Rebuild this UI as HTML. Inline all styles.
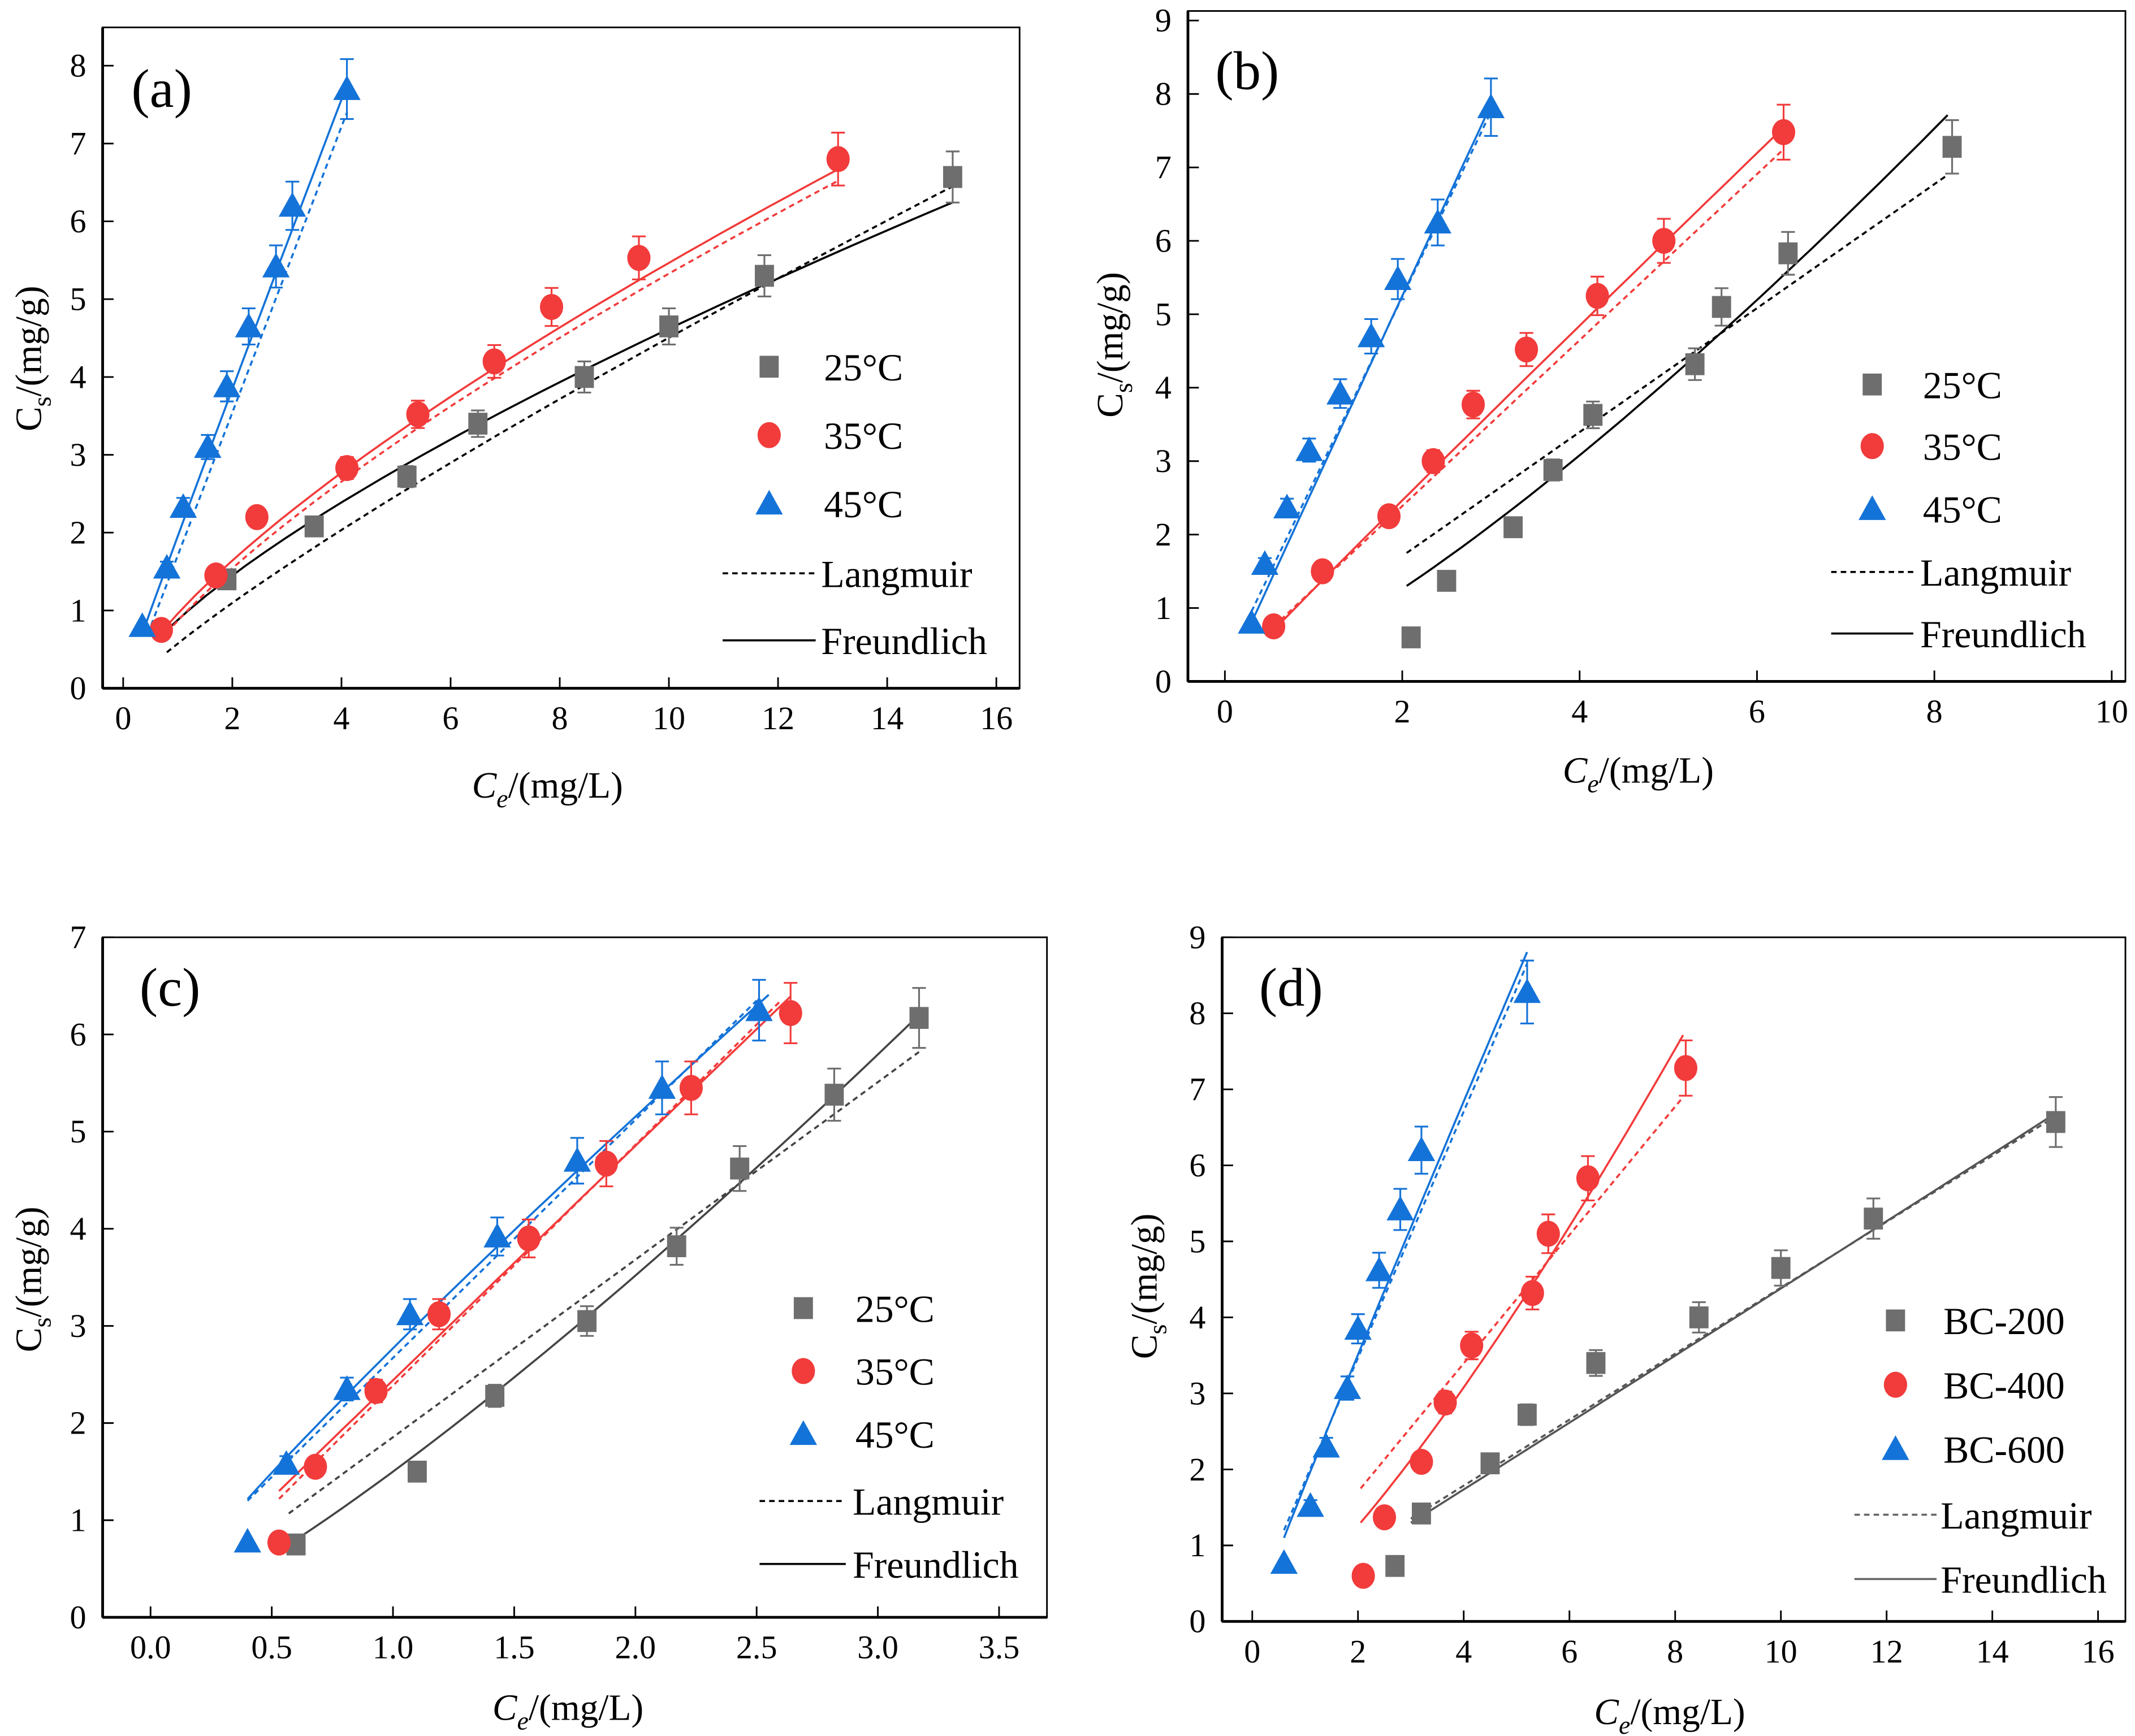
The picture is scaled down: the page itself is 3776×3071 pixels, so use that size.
<!DOCTYPE html>
<html><head><meta charset="utf-8"><style>
html,body{margin:0;padding:0;background:#fff}
svg{display:block}
text{font-family:"Liberation Serif",serif;fill:#000}
</style></head><body>
<svg id="fig" width="3776" height="3071" viewBox="0 0 1560 1268.7" xmlns="http://www.w3.org/2000/svg"></svg>
<script>
// ---------- data ----------
const a25x=[1.9,3.5,5.2,6.5,8.45,10.0,11.75,15.2];
const a25y=[1.4,2.08,2.72,3.4,4.0,4.65,5.3,6.57];
const a35x=[0.7,1.7,2.45,4.1,5.4,6.8,7.85,9.45,13.1];
const a35y=[0.75,1.45,2.2,2.83,3.52,4.2,4.9,5.53,6.8];
const a45x=[0.35,0.8,1.1,1.55,1.9,2.3,2.8,3.1,4.1];
const a45y=[0.8,1.55,2.33,3.1,3.88,4.65,5.42,6.2,7.7];
const b25x=[2.1,2.5,3.25,3.7,4.15,5.3,5.6,6.35,8.2];
const b25y=[0.6,1.37,2.1,2.88,3.63,4.32,5.1,5.83,7.28];
const b35x=[0.55,1.1,1.85,2.35,2.8,3.4,4.2,4.95,6.3];
const b35y=[0.75,1.5,2.25,3.0,3.77,4.52,5.25,6.0,7.48];
const b45x=[0.3,0.45,0.7,0.95,1.3,1.65,1.95,2.4,3.0];
const b45y=[0.8,1.6,2.37,3.15,3.92,4.7,5.48,6.25,7.82];
const c25x=[0.6,1.1,1.42,1.8,2.17,2.43,2.82,3.17];
const c25y=[0.75,1.5,2.28,3.05,3.82,4.62,5.38,6.17];
const c35x=[0.53,0.68,0.93,1.19,1.56,1.88,2.23,2.64];
const c35y=[0.77,1.55,2.33,3.12,3.9,4.67,5.45,6.22];
const c45x=[0.4,0.56,0.81,1.07,1.43,1.76,2.11,2.51];
const c45y=[0.78,1.58,2.35,3.12,3.92,4.7,5.45,6.25];
const d200x=[2.7,3.2,4.5,5.2,6.5,8.45,10.0,11.75,15.2];
const d200y=[0.73,1.42,2.08,2.72,3.4,4.0,4.65,5.3,6.57];
const d400x=[2.1,2.5,3.2,3.65,4.15,5.3,5.6,6.35,8.2];
const d400y=[0.6,1.37,2.1,2.88,3.63,4.32,5.1,5.83,7.28];
const d600x=[0.6,1.1,1.4,1.8,2.0,2.4,2.8,3.2,5.2];
const d600y=[0.77,1.52,2.3,3.07,3.85,4.62,5.42,6.2,8.28];
// fit params: q = K*C^n + b  -> [K,n,b,xmin,xmax]
const aF=[[0.88,0.72,0,0.8,15.2],[1.04,0.727,-0.08,0.7,13.1],[1.955,0.976,0,0.4,4.1]];
const aL=[[0.655,0.845,-0.08,0.8,15.2],[1.02,0.73,-0.15,0.8,13.1],[1.836,1,-0.13,0.45,4.1]];
const bF=[[0.515,1.29,0,2.05,8.15],[1.254,0.975,0,0.55,6.3],[2.64,0.992,0,0.3,3.0]];
const bL=[[0.844,1,0.02,2.05,8.15],[1.13,1,0.128,0.55,6.3],[2.52,1,0.195,0.3,3.0]];
const cF=[[1.5,1.23,0,0.6,3.17],[2.44,0.992,0,0.53,2.64],[2.77,0.896,0,0.4,2.55]];
const cL=[[1.827,1,0.028,0.57,3.17],[2.478,1,-0.093,0.53,2.6],[2.452,1,0.219,0.4,2.5]];
const dF=[[0.428,1.01,0,3.0,15.2],[0.515,1.29,0,2.05,8.15],[1.8,0.963,0,0.6,5.2]];
const dL=[[0.434,1,0.05,3.0,15.2],[0.844,1,0.02,2.05,8.15],[1.62,1,0.228,0.6,5.2]];
const aTicksX=[0,2,4,6,8,10,12,14,16], aTicksY=[0,1,2,3,4,5,6,7,8];
const bTicksX=[0,2,4,6,8,10], bTicksY=[0,1,2,3,4,5,6,7,8,9];
const cTicksX=[0,0.5,1,1.5,2,2.5,3,3.5], cTicksY=[0,1,2,3,4,5,6,7];
const dTicksX=[0,2,4,6,8,10,12,14,16], dTicksY=[0,1,2,3,4,5,6,7,8,9];
const tempLabels=["25°C","35°C","45°C"];
const bcLabels=["BC-200","BC-400","BC-600"];

const NS="http://www.w3.org/2000/svg";
const svg=document.getElementById('fig');
const COL=["#6e6e6e","#f23b3b","#1473d8"];
function el(tag,attrs,parent){const e=document.createElementNS(NS,tag);for(const k in attrs)e.setAttribute(k,attrs[k]);(parent||svg).appendChild(e);return e;}

function marker(g,kind,x,y,c){
  let m;
  if(kind===0){m=el('rect',{x:x-7,y:y-8,width:14,height:16,fill:c},g);}
  else if(kind===1){m=el('ellipse',{cx:x,cy:y,rx:8.5,ry:9.5,fill:c},g);}
  else {m=el('polygon',{points:`${x},${y-10} ${x-10},${y+8} ${x+10},${y+8}`,fill:c},g);}
  return m;
}

function panel(P){
  const g=el('g',{});
  
  
  const X=v=>P.x0+(v-P.xmin)*(P.x1-P.x0)/(P.xmax-P.xmin);
  const Y=v=>P.y0-(v-P.ymin)*(P.y0-P.y1)/(P.ymax-P.ymin);
  const fr=el('rect',{x:P.bl,y:P.bt,width:P.br-P.bl,height:P.bb-P.bt,fill:'none',stroke:'#000','stroke-width':1.2},g);
  
  el('line',{x1:P.bl,y1:P.bt,x2:P.bl,y2:P.bb,stroke:'#000','stroke-width':2},g);
  el('line',{x1:P.bl,y1:P.bb,x2:P.br,y2:P.bb,stroke:'#000','stroke-width':2},g);
  P.tx.forEach(t=>{const x=X(t);
    el('line',{x1:x,y1:P.bb,x2:x,y2:P.bb-8,stroke:'#000','stroke-width':1.2},g);
    const tt=el('text',{x:x,y:P.bb+30,'font-size':24,'text-anchor':'middle'},g);tt.textContent=P.fmt?t.toFixed(1):t;
    });
  P.ty.forEach(t=>{const y=Y(t);
    el('line',{x1:P.bl,y1:y,x2:P.bl+8,y2:y,stroke:'#000','stroke-width':1.2},g);
    const tt=el('text',{x:P.bl-12,y:y+8,'font-size':24,'text-anchor':'end'},g);tt.textContent=t;
    });
  const xt=el('text',{x:P.xtx,y:P.xty,'font-size':27,'text-anchor':'middle'},g);
  xt.innerHTML='<tspan font-style="italic">C</tspan><tspan font-style="italic" font-size="19" dy="7">e</tspan><tspan dy="-7">/(mg/L)</tspan>';
  
  const yt=el('text',{x:0,y:0,'font-size':27,'text-anchor':'middle',transform:`translate(${P.ytx},${P.yty}) rotate(-90)`},g);
  yt.innerHTML='<tspan>C</tspan><tspan font-size="19" dy="7">s</tspan><tspan dy="-7">/(mg/g)</tspan>';
  
  const pl=el('text',{x:P.lx,y:P.ly,'font-size':40},g);pl.textContent='('+P.id+')';
  
  const curve=f=>{let pts=[];for(let i=0;i<=40;i++){const v=f[3]+(f[4]-f[3])*i/40;pts.push(X(v).toFixed(1)+','+Y(f[0]*Math.pow(v,f[1])+f[2]).toFixed(1));}return pts.join(' ');};
  for(let s=0;s<3;s++){
    const c=P.fitCol?P.fitCol[s]:COL[s];
    const fl=el('polyline',{points:curve(P.F[s]),fill:'none',stroke:c,'stroke-width':1.5},g);
    
    const ll=el('polyline',{points:curve(P.L[s]),fill:'none',stroke:c,'stroke-width':1.5,'stroke-dasharray':'4,3'},g);
    
  }
  for(let s=0;s<3;s++){
    const xs=P.d[s][0],ys=P.d[s][1];
    xs.forEach((v,i)=>{
      const x=X(v),y=Y(ys[i]),e=Math.abs(Y(ys[i]*0.05)-Y(0));
      if(ys[i]>1.2){
        el('line',{x1:x,y1:y-e,x2:x,y2:y+e,stroke:COL[s],'stroke-width':1.3},g);
        el('line',{x1:x-5,y1:y-e,x2:x+5,y2:y-e,stroke:COL[s],'stroke-width':1.3},g);
        el('line',{x1:x-5,y1:y+e,x2:x+5,y2:y+e,stroke:COL[s],'stroke-width':1.3},g);
      }
      const m=marker(g,s,x,y,COL[s]);
      
      
    });
  }
  const lg=el('g',{},g);
  
  for(let s=0;s<3;s++){
    const y=P.legY[s];marker(lg,s,P.legM,y,COL[s]);
    const t=el('text',{x:P.legT,y:y+10,'font-size':28},lg);t.textContent=P.labels[s];
    
  }
  const lc=P.lineCol||'#000';
  el('line',{x1:P.legL0,y1:P.legY[3],x2:P.legL1,y2:P.legY[3],stroke:lc,'stroke-width':1.5,'stroke-dasharray':'4,3'},lg);
  const t1=el('text',{x:P.legT-2,y:P.legY[3]+10,'font-size':28},lg);t1.textContent='Langmuir';
  
  el('line',{x1:P.legL0,y1:P.legY[4],x2:P.legL1,y2:P.legY[4],stroke:lc,'stroke-width':1.5},lg);
  const t2=el('text',{x:P.legT-2,y:P.legY[4]+10,'font-size':28},lg);t2.textContent='Freundlich';
  
}
const blackFits=['#000','#f23b3b','#1473d8'];
panel({id:'a',bl:75,br:745,bt:20,bb:503,x0:90,x1:728,xmin:0,xmax:16,y0:503,y1:48,ymin:0,ymax:8,
  tx:aTicksX,ty:aTicksY,xtx:400,xty:583,ytx:30,yty:262,lx:96,ly:78,F:aF,L:aL,fitCol:blackFits,
  d:[[a25x,a25y],[a35x,a35y],[a45x,a45y]],labels:tempLabels,legM:562,legT:602,legL0:528,legL1:596,legY:[268,318,368,419,468]});
panel({id:'b',bl:868,br:1553,bt:8,bb:498,x0:895,x1:1543,xmin:0,xmax:10,y0:498,y1:15,ymin:0,ymax:9,
  tx:bTicksX,ty:bTicksY,xtx:1197,xty:572,ytx:820,yty:252,lx:888,ly:65,F:bF,L:bL,fitCol:blackFits,
  d:[[b25x,b25y],[b35x,b35y],[b45x,b45y]],labels:tempLabels,legM:1368,legT:1405,legL0:1338,legL1:1398,legY:[281,326,372,418,463]});
panel({id:'c',bl:75,br:765,bt:685,bb:1182,x0:110,x1:730,xmin:0,xmax:3.5,y0:1182,y1:685,ymin:0,ymax:7,fmt:true,
  tx:cTicksX,ty:cTicksY,xtx:415,xty:1257,ytx:30,yty:935,lx:102,ly:735,F:cF,L:cL,fitCol:['#444','#f23b3b','#1473d8'],
  d:[[c25x,c25y],[c35x,c35y],[c45x,c45y]],labels:tempLabels,legM:587,legT:625,legL0:555,legL1:618,legY:[956,1002,1048,1097,1143]});
panel({id:'d',bl:893,br:1553,bt:685,bb:1185,x0:915,x1:1533,xmin:0,xmax:16,y0:1185,y1:685,ymin:0,ymax:9,
  tx:dTicksX,ty:dTicksY,xtx:1220,xty:1260,ytx:845,yty:940,lx:920,ly:735,F:dF,L:dL,fitCol:['#555','#f23b3b','#1473d8'],lineCol:'#666',
  d:[[d200x,d200y],[d400x,d400y],[d600x,d600y]],labels:bcLabels,legM:1385,legT:1420,legL0:1355,legL1:1415,legY:[965,1012,1059,1107,1154]});
</script>
</body></html>
